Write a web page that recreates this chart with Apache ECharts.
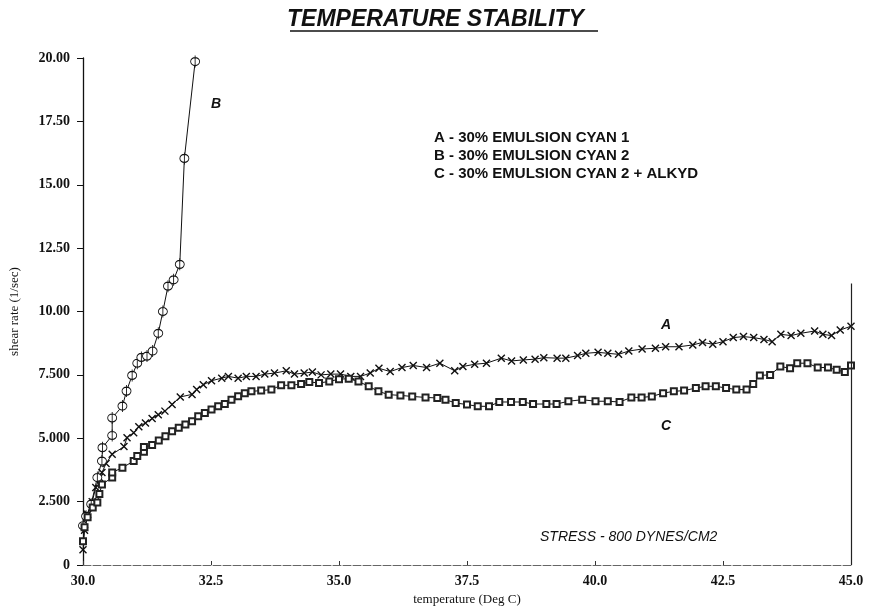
<!DOCTYPE html>
<html><head><meta charset="utf-8">
<script src="https://cdn.jsdelivr.net/npm/echarts@6/dist/echarts.min.js"></script>
<style>html,body{margin:0;padding:0;background:#fff}#c{width:871px;height:611px}</style>
</head><body><div id="c"></div>
<script>
// ---- data ----
const xTicks = [30.0, 32.5, 35.0, 37.5, 40.0, 42.5, 45.0];
const yTickLabels = ['0','2.500','5.000','7.500','10.00','12.50','15.00','17.50','20.00'];
const seriesNames = ['A - 30% EMULSION CYAN 1','B - 30% EMULSION CYAN 2','C - 30% EMULSION CYAN 2 + ALKYD'];

const tempB = [30.0,30.06,30.16,30.28,30.37,30.38,30.57,30.57,30.77,30.85,30.96,31.06,31.14,31.25,31.36,31.47,31.56,31.66,31.77,31.89,31.98,32.19];
const rateB = [1.55,1.92,2.4,3.45,4.1,4.63,5.11,5.8,6.27,6.86,7.48,7.96,8.19,8.24,8.44,9.14,10.0,11.0,11.25,11.86,16.04,19.86];

const tempA = [30.0,30.03,30.09,30.18,30.25,30.32,30.37,30.45,30.57,30.8,30.86,30.99,31.09,31.22,31.35,31.47,31.6,31.74,31.9,32.13,32.22,32.35,32.51,32.71,32.84,33.03,33.19,33.38,33.55,33.74,33.97,34.13,34.32,34.48,34.65,34.84,35.03,35.23,35.42,35.61,35.78,36.0,36.23,36.45,36.71,36.97,37.26,37.42,37.65,37.88,38.17,38.37,38.6,38.83,39.0,39.26,39.43,39.66,39.82,40.06,40.25,40.46,40.66,40.92,41.18,41.38,41.64,41.91,42.1,42.3,42.5,42.7,42.9,43.1,43.3,43.46,43.63,43.83,44.02,44.29,44.45,44.62,44.79,45.0];
const rateA = [0.6,1.37,2.0,2.5,3.06,3.45,3.65,4.0,4.37,4.67,5.02,5.22,5.45,5.6,5.78,5.93,6.07,6.33,6.63,6.73,6.92,7.11,7.27,7.37,7.44,7.37,7.44,7.44,7.53,7.57,7.66,7.53,7.57,7.61,7.5,7.53,7.53,7.44,7.44,7.57,7.76,7.63,7.79,7.87,7.79,7.96,7.66,7.83,7.92,7.96,8.16,8.05,8.09,8.12,8.18,8.16,8.16,8.26,8.35,8.39,8.35,8.31,8.44,8.52,8.55,8.61,8.61,8.68,8.78,8.71,8.81,8.97,9.01,8.97,8.9,8.81,9.1,9.05,9.14,9.23,9.1,9.05,9.27,9.42];

const tempC = [30.0,30.03,30.09,30.19,30.28,30.32,30.37,30.57,30.57,30.77,30.99,31.06,31.19,31.19,31.35,31.48,31.61,31.74,31.87,32.0,32.13,32.25,32.38,32.51,32.64,32.77,32.9,33.03,33.16,33.29,33.48,33.68,33.87,34.07,34.26,34.42,34.61,34.81,35.0,35.19,35.38,35.58,35.77,35.97,36.2,36.43,36.69,36.92,37.08,37.28,37.5,37.71,37.93,38.13,38.36,38.59,38.79,39.05,39.25,39.48,39.75,40.01,40.25,40.48,40.71,40.91,41.11,41.33,41.54,41.74,41.97,42.16,42.36,42.56,42.76,42.96,43.09,43.22,43.42,43.62,43.81,43.95,44.15,44.35,44.55,44.72,44.88,45.0];
const rateC = [0.94,1.49,1.88,2.27,2.47,2.8,3.18,3.45,3.65,3.84,4.1,4.3,4.47,4.65,4.73,4.91,5.08,5.28,5.41,5.54,5.67,5.87,6.0,6.13,6.26,6.35,6.52,6.66,6.78,6.85,6.88,6.92,7.09,7.09,7.14,7.22,7.18,7.24,7.33,7.35,7.24,7.05,6.85,6.72,6.69,6.65,6.61,6.59,6.52,6.39,6.33,6.26,6.26,6.43,6.43,6.43,6.35,6.35,6.35,6.46,6.52,6.46,6.46,6.43,6.61,6.61,6.65,6.78,6.85,6.88,6.98,7.05,7.05,6.98,6.92,6.92,7.14,7.48,7.5,7.83,7.76,7.96,7.96,7.79,7.79,7.7,7.61,7.87];

const zip = (a, b) => a.map((v, i) => [v, b[i]]);

const chart = echarts.init(document.getElementById('c'), null, {renderer: 'canvas'});
const serif = 'Liberation Serif';
const sans = 'Liberation Sans';

chart.setOption({
  animation: false,
  backgroundColor: '#fff',
  title: [
    {text: 'TEMPERATURE STABILITY', left: 'center', top: 3,
     textStyle: {fontFamily: sans, fontStyle: 'italic', fontWeight: 'bold', fontSize: 23, color: '#111'}},
    {text: seriesNames.join('\n'), left: 429, top: 124,
     textStyle: {fontFamily: sans, fontWeight: 'bold', fontSize: 15, lineHeight: 18, color: '#111'}},
    {text: 'B', left: 206, top: 92, textStyle: {fontFamily: sans, fontStyle: 'italic', fontWeight: 'bold', fontSize: 14, color: '#111'}},
    {text: 'A', left: 656, top: 313, textStyle: {fontFamily: sans, fontStyle: 'italic', fontWeight: 'bold', fontSize: 14, color: '#111'}},
    {text: 'C', left: 656, top: 414, textStyle: {fontFamily: sans, fontStyle: 'italic', fontWeight: 'bold', fontSize: 14, color: '#111'}},
    {text: 'STRESS - 800 DYNES/CM2', left: 535, top: 525, textStyle: {fontFamily: sans, fontStyle: 'italic', fontWeight: 'normal', fontSize: 14, color: '#111'}}
  ],
  graphic: [
    {type: 'line', shape: {x1: 290, y1: 31, x2: 598, y2: 31}, style: {stroke: '#111', lineWidth: 1.5}}
  ],
  grid: {left: 77, right: 20, top: 58, bottom: 43, containLabel: false},
  xAxis: {
    type: 'value', min: 30, max: 45, interval: 2.5,
    name: 'temperature (Deg C)', nameLocation: 'middle', nameGap: 28,
    nameTextStyle: {fontFamily: serif, fontSize: 13, color: '#111'},
    axisLine: {lineStyle: {color: '#666', width: 1, type: [8, 2]}},
    axisTick: {inside: true, length: 4, lineStyle: {color: '#333'}},
    axisLabel: {margin: 9, fontFamily: serif, fontWeight: 'bold', fontSize: 14, color: '#111',
      formatter: v => xTicks.indexOf(v) >= 0 ? v.toFixed(1) : ''},
    splitLine: {show: false}
  },
  yAxis: {
    type: 'value', min: 0, max: 20, interval: 2.5,
    name: 'shear rate (1/sec)', nameLocation: 'middle', nameGap: 62,
    nameTextStyle: {fontFamily: serif, fontSize: 13, color: '#111'},
    axisLine: {lineStyle: {color: '#111', width: 1.3}},
    axisTick: {inside: false, length: 6, lineStyle: {color: '#111'}},
    axisLabel: {margin: 13, fontFamily: serif, fontWeight: 'bold', fontSize: 14, color: '#111',
      formatter: v => yTickLabels[Math.round(v / 2.5)]},
    splitLine: {show: false}
  },
  series: [
    {name: seriesNames[0], type: 'line', data: zip(tempA, rateA),
     symbol: 'path://M-4,-4L4,4M-4,4L4,-4', symbolSize: 7,
     lineStyle: {color: '#111', width: 1},
     itemStyle: {color: '#111', borderColor: '#111', borderWidth: 1.4},
     markLine: {silent: true, symbol: 'none', label: {show: false},
       lineStyle: {color: '#222', width: 1.2, type: 'solid'},
       data: [[{coord: [45, 0]}, {coord: [45, 11.1]}]]}
    },
    {name: seriesNames[1], type: 'line', data: zip(tempB, rateB),
     symbol: 'path://M0,-6L0,6M-4,0A4,4 0 1,0 4,0A4,4 0 1,0 -4,0Z', symbolSize: [9, 12],
     lineStyle: {color: '#111', width: 1},
     itemStyle: {color: '#fff', borderColor: '#111', borderWidth: 1}
    },
    {name: seriesNames[2], type: 'line', data: zip(tempC, rateC),
     symbol: 'emptyRect', symbolSize: 6,
     lineStyle: {color: '#111', width: 1},
     itemStyle: {color: '#222', borderColor: '#222', borderWidth: 0.9}
    }
  ]
});
</script>
</body></html>
